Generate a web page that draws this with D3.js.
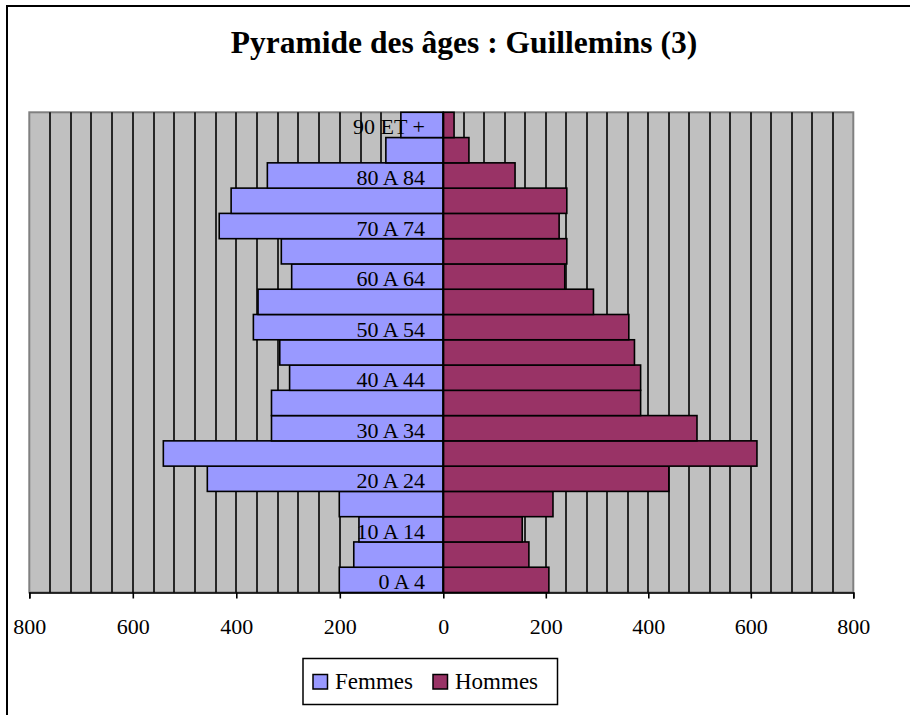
<!DOCTYPE html>
<html>
<head>
<meta charset="utf-8">
<script src="https://cdn.jsdelivr.net/npm/d3@7"></script>
<style>
  html, body { margin: 0; padding: 0; background: #fff; }
  svg { display: block; }
  text { font-family: "Liberation Serif", "Times New Roman", serif; fill: #000; }
</style>
</head>
<body>
<svg id="chart" width="910" height="715"></svg>
<script>
// ---- data (bottom to top) ----
const categories = ["0 A 4","5 A 9","10 A 14","15 A 19","20 A 24","25 A 29","30 A 34","35 A 39",
  "40 A 44","45 A 49","50 A 54","55 A 59","60 A 64","65 A 69","70 A 74","75 A 79","80 A 84","85 A 89","90 ET +"];
const femmes = [201,173,163,201,456,541,332,332,297,316,367,358,293,313,433,410,340,111,82];
const hommes = [206,167,154,214,440,612,495,385,385,373,362,293,237,241,226,241,140,50,21];
const tickValues = [-800,-600,-400,-200,0,200,400,600,800];
const seriesNames = ["Femmes","Hommes"];
const seriesColors = ["#9999FF","#993366"];
const chartTitle = "Pyramide des âges : Guillemins (3)";

(function () {
const svg = d3.select("#chart");

// outer frame (extends beyond the visible window on right/bottom)
svg.append("path")
  .attr("d", "M7,716 L7,6 L912,6")
  .attr("fill", "none").attr("stroke", "#000").attr("stroke-width", 2);

// title
svg.append("text")
  .attr("x", 464).attr("y", 53)
  .attr("text-anchor", "middle")
  .attr("font-size", 31.5).attr("font-weight", "bold")
  .text(chartTitle);

// scales
const pLeft = 29.3, pZero = 443.3, pRight = 853.3, pTop = 112.3, pBottom = 592.5;
const x = d3.scaleLinear().domain([-800, 0, 800]).range([pLeft, pZero, pRight]);
const y = d3.scaleBand().domain(categories.slice().reverse()).range([pTop, pBottom]).padding(0);

// plot background
svg.append("rect")
  .attr("x", pLeft).attr("y", pTop)
  .attr("width", pRight - pLeft).attr("height", pBottom - pTop)
  .attr("fill", "#C0C0C0").attr("stroke", "#808080").attr("stroke-width", 2);

// gridlines every 40
const grid = d3.range(-760, 800, 40).filter(v => v !== 0);
svg.append("g").selectAll("line").data(grid).join("line")
  .attr("x1", d => Math.round(x(d))).attr("x2", d => Math.round(x(d)))
  .attr("y1", pTop).attr("y2", pBottom)
  .attr("stroke", "#000").attr("stroke-width", 1.6);

// bars
const rows = categories.map((c, i) => ({ c, f: femmes[i], h: hommes[i] }));
const gBars = svg.append("g");
gBars.selectAll("rect.f").data(rows).join("rect").attr("class", "f")
  .attr("x", d => x(-d.f)).attr("y", d => y(d.c))
  .attr("width", d => x(0) - x(-d.f)).attr("height", y.bandwidth())
  .attr("fill", seriesColors[0]).attr("stroke", "#000").attr("stroke-width", 1.6);
gBars.selectAll("rect.h").data(rows).join("rect").attr("class", "h")
  .attr("x", x(0)).attr("y", d => y(d.c))
  .attr("width", d => x(d.h) - x(0)).attr("height", y.bandwidth())
  .attr("fill", seriesColors[1]).attr("stroke", "#000").attr("stroke-width", 1.6);

// zero (category) axis
svg.append("line")
  .attr("x1", x(0)).attr("x2", x(0)).attr("y1", pTop).attr("y2", pBottom)
  .attr("stroke", "#000").attr("stroke-width", 2);

// category labels (every other)
svg.append("g").selectAll("text")
  .data(categories.filter((c, i) => i % 2 === 0))
  .join("text")
  .attr("x", 425).attr("y", d => y(d) + y.bandwidth() / 2 + 9.5)
  .attr("text-anchor", "end").attr("font-size", 22)
  .text(d => d);

// value axis
const axis = d3.axisBottom(x).tickValues(tickValues).tickSize(6).tickFormat(d => Math.abs(d));
const gAxis = svg.append("g").attr("transform", `translate(0,${pBottom})`).call(axis);
gAxis.select(".domain").attr("stroke", "#000").attr("stroke-width", 1.6);
gAxis.selectAll(".tick line").attr("stroke", "#000").attr("stroke-width", 1.6);
gAxis.selectAll(".tick text")
  .attr("y", 41).attr("dy", null)
  .attr("font-size", 22)
  .attr("font-family", "Liberation Serif, Times New Roman, serif")
  .attr("fill", "#000");

// legend
const lg = svg.append("g");
lg.append("rect").attr("x", 303).attr("y", 658.5).attr("width", 254.5).attr("height", 46)
  .attr("fill", "#fff").attr("stroke", "#000").attr("stroke-width", 1.5);
const legendX = [313, 433];
seriesNames.forEach((name, i) => {
  lg.append("rect").attr("x", legendX[i]).attr("y", 674.5).attr("width", 14.5).attr("height", 14.5)
    .attr("fill", seriesColors[i]).attr("stroke", "#000").attr("stroke-width", 1.5);
  lg.append("text").attr("x", legendX[i] + 22).attr("y", 689)
    .attr("font-size", 23).text(name);
});
})();
</script>
</body>
</html>
